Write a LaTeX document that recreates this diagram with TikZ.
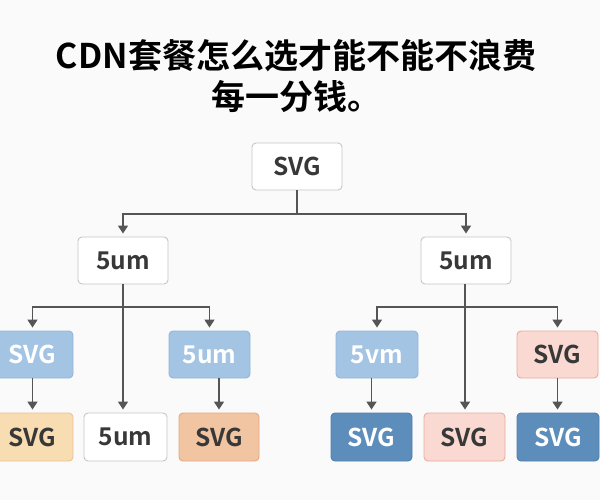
\documentclass[tikz,border=0pt]{standalone}
\usepackage{fontspec}
\usetikzlibrary{arrows.meta}
\newfontfamily\cjkb[BoldFont={* Bold}]{Noto Sans CJK SC}
\definecolor{bgc}{HTML}{FAFAFA}
\definecolor{linec}{HTML}{555555}
\definecolor{txtc}{HTML}{383838}
\definecolor{lbfill}{HTML}{A4C4E4}
\definecolor{lbdraw}{HTML}{92B5DA}
\definecolor{yefill}{HTML}{F8DCB2}
\definecolor{yedraw}{HTML}{EBC48F}
\definecolor{orfill}{HTML}{F2C5A2}
\definecolor{ordraw}{HTML}{E2A880}
\definecolor{dbfill}{HTML}{5D8EBB}
\definecolor{dbdraw}{HTML}{4F7FAD}
\definecolor{pkfill}{HTML}{F9D9D1}
\definecolor{pkdraw}{HTML}{E8AC9C}
\definecolor{wbdraw}{HTML}{C6C6C6}
\begin{document}
\begin{tikzpicture}[x=1pt,y=-1pt,
  box/.style={rectangle,rounded corners=4pt,line width=0.9pt,inner sep=0pt,
    minimum height=47pt,font=\cjkb\bfseries\fontsize{24.5}{27}\selectfont},
  wbox/.style={box,fill=white,draw=wbdraw,text=txtc},
  lbbox/.style={box,fill=lbfill,draw=lbdraw,text=white},
  yebox/.style={box,fill=yefill,draw=yedraw,text=txtc},
  orbox/.style={box,fill=orfill,draw=ordraw,text=txtc},
  dbbox/.style={box,fill=dbfill,draw=dbdraw,text=white},
  pkbox/.style={box,fill=pkfill,draw=pkdraw,text=txtc},
  conn/.style={draw=linec,line width=1.5pt},
  arr/.style={conn,-{Triangle[width=10pt,length=8pt]},shorten >=3pt},
  ttl/.style={font=\cjkb\bfseries\fontsize{34}{38}\selectfont,text=black,anchor=base,inner sep=0pt}
]
\fill[bgc] (0,0) rectangle (600,500);
\useasboundingbox (0,0) rectangle (600,500);

\node[ttl] (t1) at (296,69) {CDN套餐怎么选才能不能不浪费};
\node[ttl] (t2) at (296,110) {每一分钱。};

\node[wbox,minimum width=90pt] (root) at (297,166.5) {SVG};
\node[wbox,minimum width=90pt] (L) at (123,260.5) {5um};
\node[wbox,minimum width=90pt] (R) at (466,260.5) {5um};

\node[lbbox,minimum width=81pt] (a) at (32.5,354.5) {SVG};
\node[lbbox,minimum width=81pt] (b) at (209.5,354.5) {5um};
\node[lbbox,minimum width=82pt] (c) at (377,354.5) {5vm};
\node[pkbox,minimum width=81pt] (e) at (557.5,354.5) {SVG};

\node[yebox,minimum width=81pt,minimum height=48pt] (f) at (32.5,437) {SVG};
\node[wbox,minimum width=83pt,minimum height=48pt] (g) at (125.5,437) {5um};
\node[orbox,minimum width=80pt,minimum height=48pt] (h) at (219,437) {SVG};
\node[dbbox,minimum width=81pt,minimum height=48pt] (i) at (371.5,437) {SVG};
\node[pkbox,minimum width=81pt,minimum height=48pt] (j) at (464.5,437) {SVG};
\node[dbbox,minimum width=82pt,minimum height=48pt] (k) at (558,437) {SVG};

\coordinate (j0) at (297,214);
\coordinate (jL) at (123,307);
\coordinate (jR) at (465,307);

\draw[conn] (root.south) -- (j0);
\draw[arr] (j0) -| (L.north);
\draw[arr] (j0) -| (R.north);

\draw[conn] (L.south) -- (jL);
\draw[arr] (jL) -| (a.north);
\draw[arr] (jL) -| (b.north);
\draw[arr] (jL) -- (jL |- g.north);

\draw[conn] (R.south -| jR) -- (jR);
\draw[arr] (jR) -| (c.north);
\draw[arr] (jR) -| (e.north);
\draw[arr] (jR) -- (jR |- j.north);

\draw[arr] (a.south) -- (f.north);
\draw[arr] (b.south -| h.north) -- (h.north);
\draw[arr] (c.south -| i.north) -- (i.north);
\draw[arr] (e.south) -- (e.south |- k.north);
\end{tikzpicture}
\end{document}
